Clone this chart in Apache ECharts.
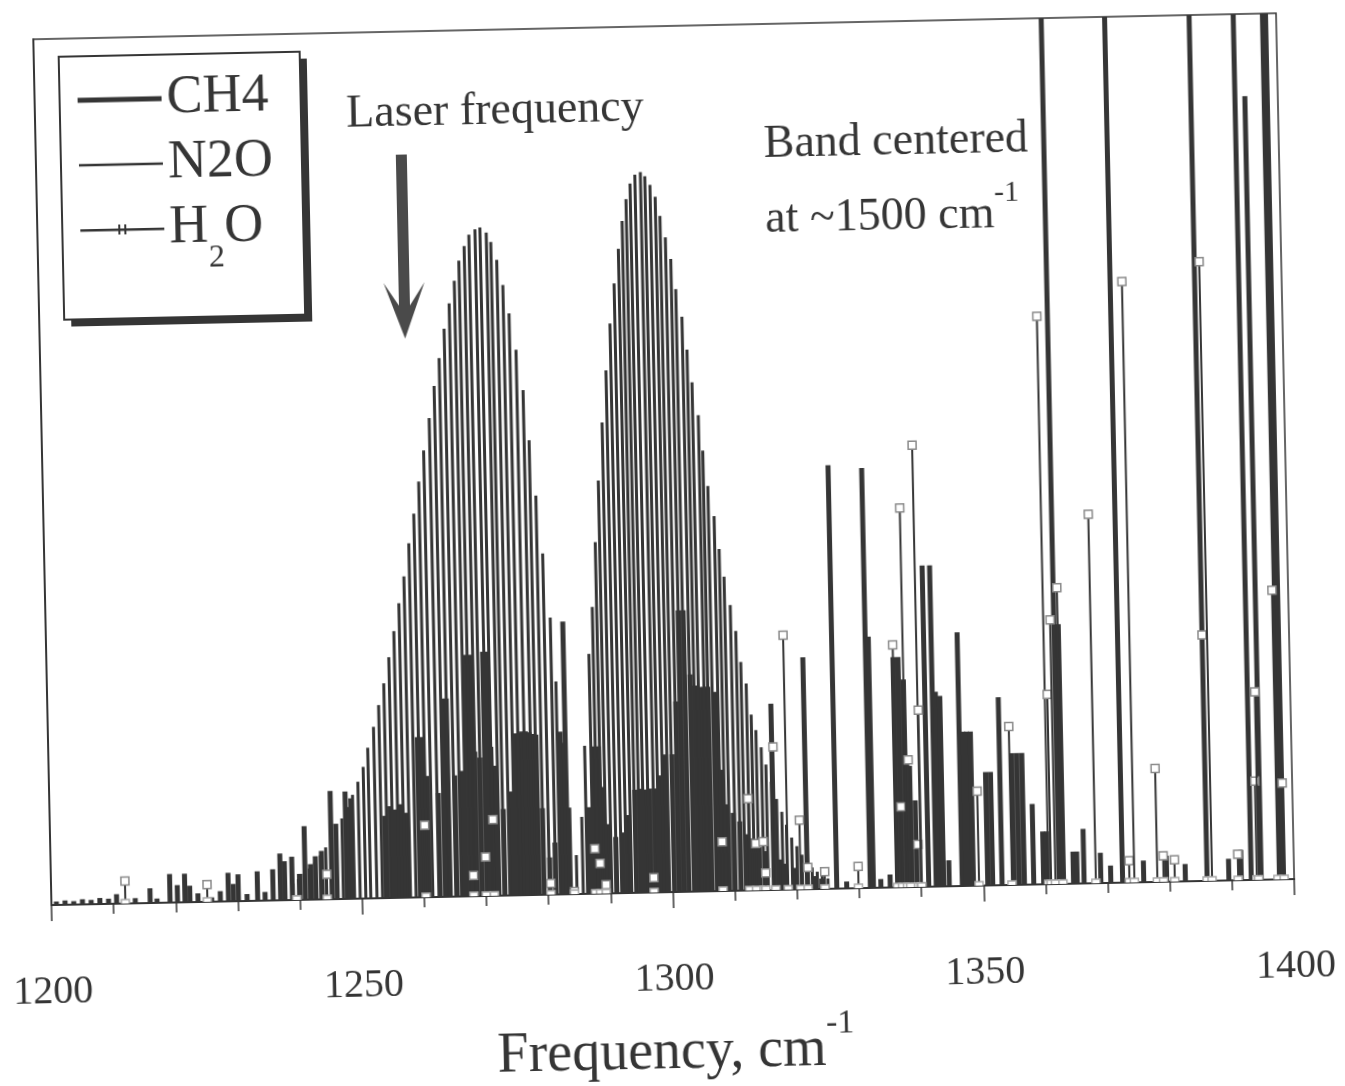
<!DOCTYPE html>
<html>
<head>
<meta charset="utf-8">
<script src="https://cdn.jsdelivr.net/npm/echarts@6/dist/echarts.min.js"></script>
<style>
  html, body { margin: 0; padding: 0; background: #fff; overflow: hidden; }
  /* the scanned figure sits slightly tilted on the page */
  #chart { width: 1345px; height: 1086px; transform: rotate(-1.2deg); transform-origin: 50% 50%; }
</style>
</head>
<body>
<div id="chart"></div>
<script>
// line positions (cm-1) and relative strengths

// N2O: P branch then R branch of the 1285 band
var n2oFreq = [
  1238.9, 1239.8, 1240.7, 1241.6, 1242.5, 1243.4, 1244.3, 1245.2, 1246.1, 1247.0,
  1247.9, 1248.8, 1249.7, 1250.6, 1251.4, 1252.4, 1253.3, 1254.2, 1255.1, 1256.0,
  1256.9, 1257.8, 1258.7, 1259.6, 1260.5, 1261.4, 1262.4, 1263.3, 1264.2, 1265.1,
  1266.0, 1266.9, 1267.7, 1268.6, 1269.4, 1270.4, 1271.2, 1272.2, 1272.9, 1273.8,
  1274.7, 1275.6, 1276.6, 1277.6, 1278.4, 1279.3, 1280.2, 1281.2, 1281.9, 1282.8,
  1283.7, 1284.6,
  1285.6, 1286.3, 1287.3, 1288.0, 1288.7, 1289.4, 1290.2, 1291.0, 1291.8, 1292.6,
  1293.4, 1294.1, 1294.8, 1295.5, 1296.3, 1297.2, 1297.9, 1298.7, 1299.5, 1300.2,
  1301.0, 1301.8, 1302.5, 1303.4, 1304.1, 1304.8, 1305.7, 1306.3, 1307.0, 1307.9,
  1308.6, 1309.3, 1310.2, 1311.0, 1311.7, 1312.5, 1313.2, 1313.9, 1314.7, 1315.4,
  1316.2, 1317.0, 1317.8, 1318.5, 1319.3, 1320.1, 1320.9, 1321.7, 1322.5, 1323.3,
  1324.1, 1325.0
];
var n2oInt = [
  1.9, 2.4, 3.0, 3.6, 4.3, 5.1, 6.0, 7.0, 8.1, 9.3,
  10.6, 12.0, 13.5, 15.2, 17.4, 19.8, 22.3, 24.8, 27.8, 30.8,
  34.0, 37.1, 40.9, 44.3, 48.0, 51.6, 55.3, 59.0, 62.2, 65.6,
  68.5, 71.1, 73.4, 75.1, 76.4, 77.0, 77.2, 76.6, 75.5, 73.4,
  70.5, 67.2, 63.0, 58.3, 52.5, 46.1, 39.4, 32.0, 24.6, 17.5,
  10.0, 4.5,
  8.9, 17.1, 27.7, 33.1, 40.6, 47.7, 54.4, 60.4, 65.8, 70.4,
  74.4, 77.6, 80.1, 81.9, 82.9, 83.2, 82.7, 81.7, 80.3, 78.1,
  75.6, 73.1, 69.6, 66.4, 62.6, 58.8, 55.0, 50.9, 46.8, 43.3,
  39.5, 36.3, 33.0, 30.0, 26.4, 23.9, 20.3, 18.5, 16.5, 14.5,
  12.5, 10.5, 9.0, 7.5, 6.0, 5.0, 4.0, 3.2, 2.5, 2.0,
  1.5, 1.2
];

// CH4 (values above 100 run off the top of the frame)
var ch4Freq = [
  1200.8, 1202.2, 1203.6, 1205.0, 1206.4, 1207.8, 1209.2, 1210.5, 1213.5, 1215.9,
  1217.0, 1219.1, 1220.3, 1221.5, 1222.3, 1223.6, 1225.8, 1227.2, 1228.5, 1229.3,
  1230.1, 1231.5, 1233.2, 1234.4, 1235.7, 1236.9, 1237.6, 1238.8, 1240.0, 1240.9,
  1241.8, 1242.6, 1243.6, 1245.2, 1246.0, 1247.6, 1248.5,
  1253.9, 1254.8, 1255.6, 1256.5, 1257.3, 1259.4, 1260.0, 1260.8, 1262.6, 1263.5,
  1264.2, 1265.3, 1266.5, 1267.5, 1268.0, 1268.6, 1269.4, 1270.2, 1270.7, 1271.2,
  1272.0, 1273.0, 1274.2, 1275.1, 1275.6, 1276.2, 1276.8, 1277.4, 1278.0, 1278.5,
  1279.3, 1280.3, 1281.2, 1282.4, 1283.2,
  1286.8, 1287.5, 1288.5, 1289.1, 1290.0, 1291.0, 1292.0, 1293.2, 1294.2, 1295.0,
  1295.8, 1296.6, 1297.4, 1298.3, 1299.2, 1300.3, 1301.1, 1301.8, 1302.6, 1303.5,
  1304.2, 1305.0, 1305.7, 1306.3, 1307.4, 1308.2, 1309.0, 1310.0, 1311.0, 1312.0,
  1313.0, 1314.0, 1315.0, 1316.4, 1317.5, 1318.3, 1319.5, 1321.7, 1323.0, 1324.0,
  1326.4, 1328.0, 1331.8, 1332.3, 1333.5, 1335.0,
  1336.2, 1337.0, 1337.8, 1338.5, 1339.3, 1341.2, 1342.4, 1342.9, 1343.6, 1344.5,
  1346.6, 1347.2, 1347.8, 1348.4, 1350.7, 1351.5, 1353.0, 1355.0, 1355.8, 1356.6,
  1358.1, 1359.7, 1360.3, 1362.2, 1362.9, 1364.5, 1365.1, 1366.2, 1368.9, 1370.5,
  1372.4, 1375.8, 1379.5, 1382.5, 1386.0, 1389.5, 1391.5, 1393.1, 1394.7, 1397.8,
  1398.3
];
var ch4Int = [
  0.4, 0.5, 0.4, 0.6, 0.5, 0.7, 0.6, 1.1, 0.6, 1.7,
  0.5, 3.3, 2.0, 3.3, 1.9, 1.0, 0.5, 1.2, 3.3, 2.0,
  3.1, 0.8, 3.4, 1.0, 3.6, 5.4, 4.5, 5.0, 3.0, 8.5,
  4.1, 5.0, 5.6, 12.5, 8.7, 12.4, 11.6,
  9.5, 10.6, 10.2, 10.8, 9.8, 18.5, 18.5, 14.0, 12.0, 22.9,
  22.9, 14.0, 14.5, 27.9, 27.9, 16.7, 16.0, 28.2, 28.2, 17.2,
  15.0, 10.0, 12.0, 18.7, 18.7, 18.9, 18.9, 18.8, 18.6, 18.5,
  10.0, 4.3, 6.0, 18.8, 31.5,
  10.0, 17.0, 17.0, 12.3, 8.0, 6.5, 7.0, 9.0, 11.9, 12.0,
  11.9, 12.0, 12.0, 13.5, 15.9, 15.9, 22.0, 32.5, 32.5, 25.1,
  23.8, 23.6, 23.6, 23.6, 23.0, 14.0, 10.0, 9.0, 8.0, 6.5,
  6.0, 5.0, 4.5, 21.5, 3.5, 3.0, 2.5, 26.8, 1.5, 1.2,
  48.9, 0.8, 48.5, 29.0, 1.0, 1.5,
  26.6, 26.6, 24.0, 14.0, 10.0, 37.1, 37.1, 22.5, 22.0, 3.0,
  29.3, 17.8, 17.8, 17.8, 13.1, 13.1, 21.7, 15.2, 15.2, 15.2,
  9.3, 6.1, 6.1, 130, 30.0, 3.7, 3.7, 6.3, 3.5, 2.0,
  130, 2.5, 3.0, 2.0, 130, 2.5, 3.5, 130, 90.5, 130,
  130
];

// H2O (drawn with open square markers)
var h2oFreq = [
  1211.9, 1225.1, 1239.5, 1244.4, 1260.3, 1268.0, 1270.0, 1271.3, 1280.4, 1284.2,
  1287.6, 1288.4, 1289.3, 1297.0, 1308.1, 1312.4, 1313.5, 1314.7, 1315.0, 1316.6,
  1318.6, 1320.6, 1321.8, 1324.5, 1329.9, 1336.2, 1337.0, 1337.8, 1338.3, 1339.6,
  1340.0, 1340.1, 1349.3, 1354.6, 1360.5, 1360.9, 1361.6, 1362.8, 1368.1, 1373.5,
  1374.3, 1378.0, 1379.0, 1380.8, 1386.0, 1386.8, 1391.0, 1394.0, 1394.3, 1397.4,
  1398.4
];
var h2oInt = [
  2.6, 2.0, 0.0, 2.9, 8.3, 2.4, 4.5, 8.8, 1.3, 0.3,
  5.2, 3.5, 1.0, 1.7, 5.7, 10.6, 5.4, 5.6, 2.0, 16.5,
  29.4, 8.0, 2.5, 2.0, 2.5, 28.0, 9.3, 43.8, 14.7, 4.9,
  51.0, 20.4, 10.9, 18.3, 65.6, 21.9, 30.5, 34.2, 42.6, 2.5,
  69.4, 13.1, 3.0, 2.5, 28.4, 71.5, 3.0, 11.4, 21.7, 33.4,
  11.1
];

var ink = '#353535';
var serif = "'Liberation Serif', 'Times New Roman', serif";

function pairs(xs, ys) {
  return xs.map(function (x, i) { return [x, ys[i]]; });
}

function stick(w) {
  return function (params, api) {
    var top = api.coord([api.value(0), api.value(1)]);
    var base = api.coord([api.value(0), 0]);
    return {
      type: 'rect',
      shape: { x: base[0] - w / 2, y: top[1], width: w, height: base[1] - top[1] },
      style: { fill: ink }
    };
  };
}

function h2oStick(params, api) {
  var top = api.coord([api.value(0), api.value(1)]);
  var base = api.coord([api.value(0), 0]);
  var s = 8;
  return {
    type: 'group',
    children: [
      { type: 'rect', shape: { x: base[0] - 1, y: top[1], width: 2, height: base[1] - top[1] }, style: { fill: ink } },
      { type: 'rect', shape: { x: top[0] - s / 2, y: top[1] - s / 2, width: s, height: s },
        style: { fill: '#fff', stroke: '#8a8a8a', lineWidth: 1.5 } },
      { type: 'rect', shape: { x: base[0] - s / 2, y: base[1] - s / 2, width: s, height: s },
        style: { fill: '#fff', stroke: '#aaaaaa', lineWidth: 1.5 } }
    ]
  };
}

var chart = echarts.init(document.getElementById('chart'));

chart.setOption({
  animation: false,
  backgroundColor: '#fff',
  grid: { left: 44, right: 58, top: 26, bottom: 186, show: true, borderColor: ink, borderWidth: 1.5 },
  legend: {
    orient: 'vertical',
    left: 69,
    top: 44,
    itemWidth: 84,
    itemHeight: 12,
    itemGap: 5,
    padding: [14, 28, 40, 18],
    backgroundColor: 'transparent',
    borderWidth: 0,
    selectedMode: false,
    data: [
      { name: 'CH4', icon: 'path://M0,0H84V5H0Z' },
      { name: 'N2O', icon: 'path://M0,0H84V2.5H0Z' },
      { name: 'H2O', icon: 'path://M0,4H38V0H40V4H44V0H46V4H84V6.5H46V10H44V6.5H40V10H38V6.5H0Z' }
    ],
    formatter: function (name) {
      return name === 'H2O' ? 'H{sub|2}O' : name;
    },
    textStyle: {
      fontFamily: serif,
      fontSize: 54,
      color: ink,
      lineHeight: 60,
      rich: {
        sub: { fontFamily: serif, fontSize: 32, color: ink, verticalAlign: 'middle', padding: [31, 0, -31, 0] }
      }
    }
  },
  xAxis: {
    type: 'value',
    min: 1200,
    max: 1400,
    interval: 50,
    name: 'Frequency, cm{sup|-1}',
    nameLocation: 'middle',
    nameGap: 133,
    nameTextStyle: {
      fontFamily: serif,
      fontSize: 56,
      color: ink,
      rich: {
        sup: { fontFamily: serif, fontSize: 34, color: ink, verticalAlign: 'middle', padding: [-26, 0, 26, 0] }
      }
    },
    axisLine: { lineStyle: { color: ink, width: 2 } },
    axisTick: { show: true, length: 16, lineStyle: { color: ink, width: 1.5 } },
    minorTick: { show: true, splitNumber: 5, length: 10, lineStyle: { color: ink, width: 1.5 } },
    axisLabel: {
      margin: 67, fontFamily: serif, fontSize: 40, color: ink,
      formatter: function (v) { return String(v); }
    },
    splitLine: { show: false }
  },
  yAxis: {
    type: 'value',
    min: 0,
    max: 100,
    axisLine: { show: true, lineStyle: { color: ink, width: 2 } },
    axisTick: { show: false },
    axisLabel: { show: false },
    splitLine: { show: false }
  },
  graphic: [
    // legend frame with its heavy drop shadow
    { type: 'rect', z: 1, shape: { x: 76, y: 51, width: 241, height: 263 }, style: { fill: ink } },
    { type: 'rect', z: 1, shape: { x: 69, y: 44, width: 241, height: 263 }, style: { fill: '#fff', stroke: ink, lineWidth: 2 } },
    {
      type: 'polygon',
      shape: { points: [[404, 149], [415, 149], [415, 300], [430, 277], [409.5, 333], [389, 277], [404, 300]] },
      style: { fill: '#4a4a4a' }
    },
    {
      type: 'text', x: 504, y: 108,
      style: { text: 'Laser frequency', font: '46px ' + serif, fill: ink, align: 'center', verticalAlign: 'middle' }
    },
    {
      type: 'text', x: 772, y: 147,
      style: { text: 'Band centered', font: '46px ' + serif, fill: ink, align: 'left', verticalAlign: 'middle' }
    },
    {
      type: 'text', x: 772, y: 222,
      style: {
        text: 'at ~1500 cm{sup|-1}', font: '46px ' + serif, fill: ink, align: 'left', verticalAlign: 'middle',
        rich: { sup: { fontFamily: serif, fontSize: 30, fill: ink, verticalAlign: 'middle', padding: [-22, 0, 22, 0] } }
      }
    }
  ],
  series: [
    {
      name: 'CH4', type: 'custom', clip: true,
      itemStyle: { color: ink },
      encode: { x: 0, y: 1 },
      renderItem: stick(5),
      data: pairs(ch4Freq, ch4Int)
    },
    {
      name: 'N2O', type: 'custom', clip: true,
      itemStyle: { color: ink },
      encode: { x: 0, y: 1 },
      renderItem: stick(3),
      data: pairs(n2oFreq, n2oInt)
    },
    {
      name: 'H2O', type: 'custom', clip: true,
      itemStyle: { color: ink },
      encode: { x: 0, y: 1 },
      renderItem: h2oStick,
      data: pairs(h2oFreq, h2oInt)
    }
  ]
});
</script>
</body>
</html>
